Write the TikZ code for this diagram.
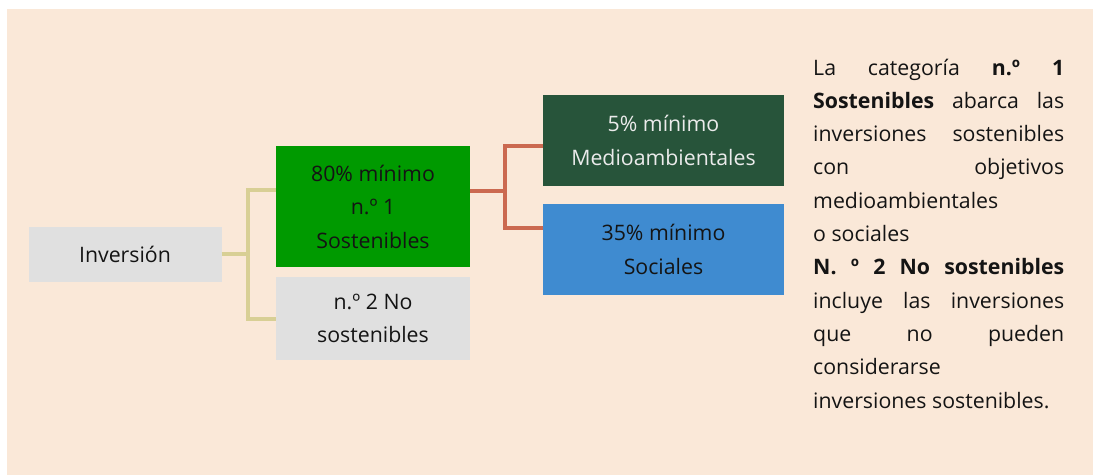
\documentclass[tikz,border=0pt]{standalone}
\usepackage{fontspec}
\setmainfont{Open Sans}
\definecolor{bg}{HTML}{FAE8D8}
\definecolor{boxgrey}{HTML}{E0E0E0}
\definecolor{green1}{HTML}{009A00}
\definecolor{dkgreen}{HTML}{27543A}
\definecolor{blue1}{HTML}{3F8BD0}
\definecolor{yl}{HTML}{D8CF95}
\definecolor{rd}{HTML}{CB6950}
\definecolor{txt}{HTML}{141414}
\begin{document}
\begin{tikzpicture}[x=1pt,y=-1pt,
  box/.style={inner sep=0pt, align=center, text=txt, font=\fontsize{21.3}{33.5}\selectfont},
  ylink/.style={draw=yl, line width=4pt},
  rlink/.style={draw=rd, line width=4pt},
  para/.style={inner sep=0pt, align=left, text=txt, font=\fontsize{21.3}{33.3}\selectfont}]
\useasboundingbox (0,0) rectangle (1093,475);
\fill[white] (0,0) rectangle (1093,475);
\fill[bg] (7,9) rectangle (1093,475);
% boxes
\node[box, fill=boxgrey, minimum width=193pt, minimum height=55pt] (inv) at (125,254) {Inversión};
\node[box, fill=green1, minimum width=194pt, minimum height=121pt] (g1) at (373,206.5) {80\% mínimo\\n.º 1\\Sostenibles};
\node[box, fill=boxgrey, minimum width=194pt, minimum height=83pt] (g2) at (373,318.5) {n.º 2 No\\sostenibles};
\node[box, fill=dkgreen, text=white!92!black, minimum width=241pt, minimum height=91pt] (m) at (663.5,140.5) {5\% mínimo\\Medioambientales};
\node[box, fill=blue1, minimum width=241pt, minimum height=91pt] (s) at (663.5,249.5) {35\% mínimo\\Sociales};
% attachment points
\coordinate (g1w) at ([yshift=16.5pt]g1.west);
\coordinate (g1e) at ([yshift=16pt]g1.east);
\coordinate (mw) at ([yshift=-5.5pt]m.west);
\coordinate (sw) at ([yshift=21.5pt]s.west);
\coordinate (j1) at (248,254);
\coordinate (j2) at (505,190.5);
% connectors
\draw[ylink] (inv.east) -- (j1);
\draw[ylink] (g1w) -- (j1 |- g1w) -- (j1 |- g2.west) -- (g2.west);
\draw[rlink] (g1e) -- (j2);
\draw[rlink] (mw) -- (j2 |- mw) -- (j2 |- sw) -- (sw);
% text
\node[para, anchor=base west] (t) at (813,408) {%
\makebox[251pt][s]{La categoría \textbf{n.º 1}}\\
\makebox[251pt][s]{\textbf{Sostenibles} abarca las}\\
\makebox[251pt][s]{inversiones sostenibles}\\
\makebox[251pt][s]{con objetivos}\\
medioambientales\\
o sociales\\
\makebox[251pt][s]{\textbf{N. º 2 No sostenibles}}\\
\makebox[251pt][s]{incluye las inversiones}\\
\makebox[251pt][s]{que no pueden}\\
considerarse\\
inversiones sostenibles.};
\end{tikzpicture}
\end{document}
